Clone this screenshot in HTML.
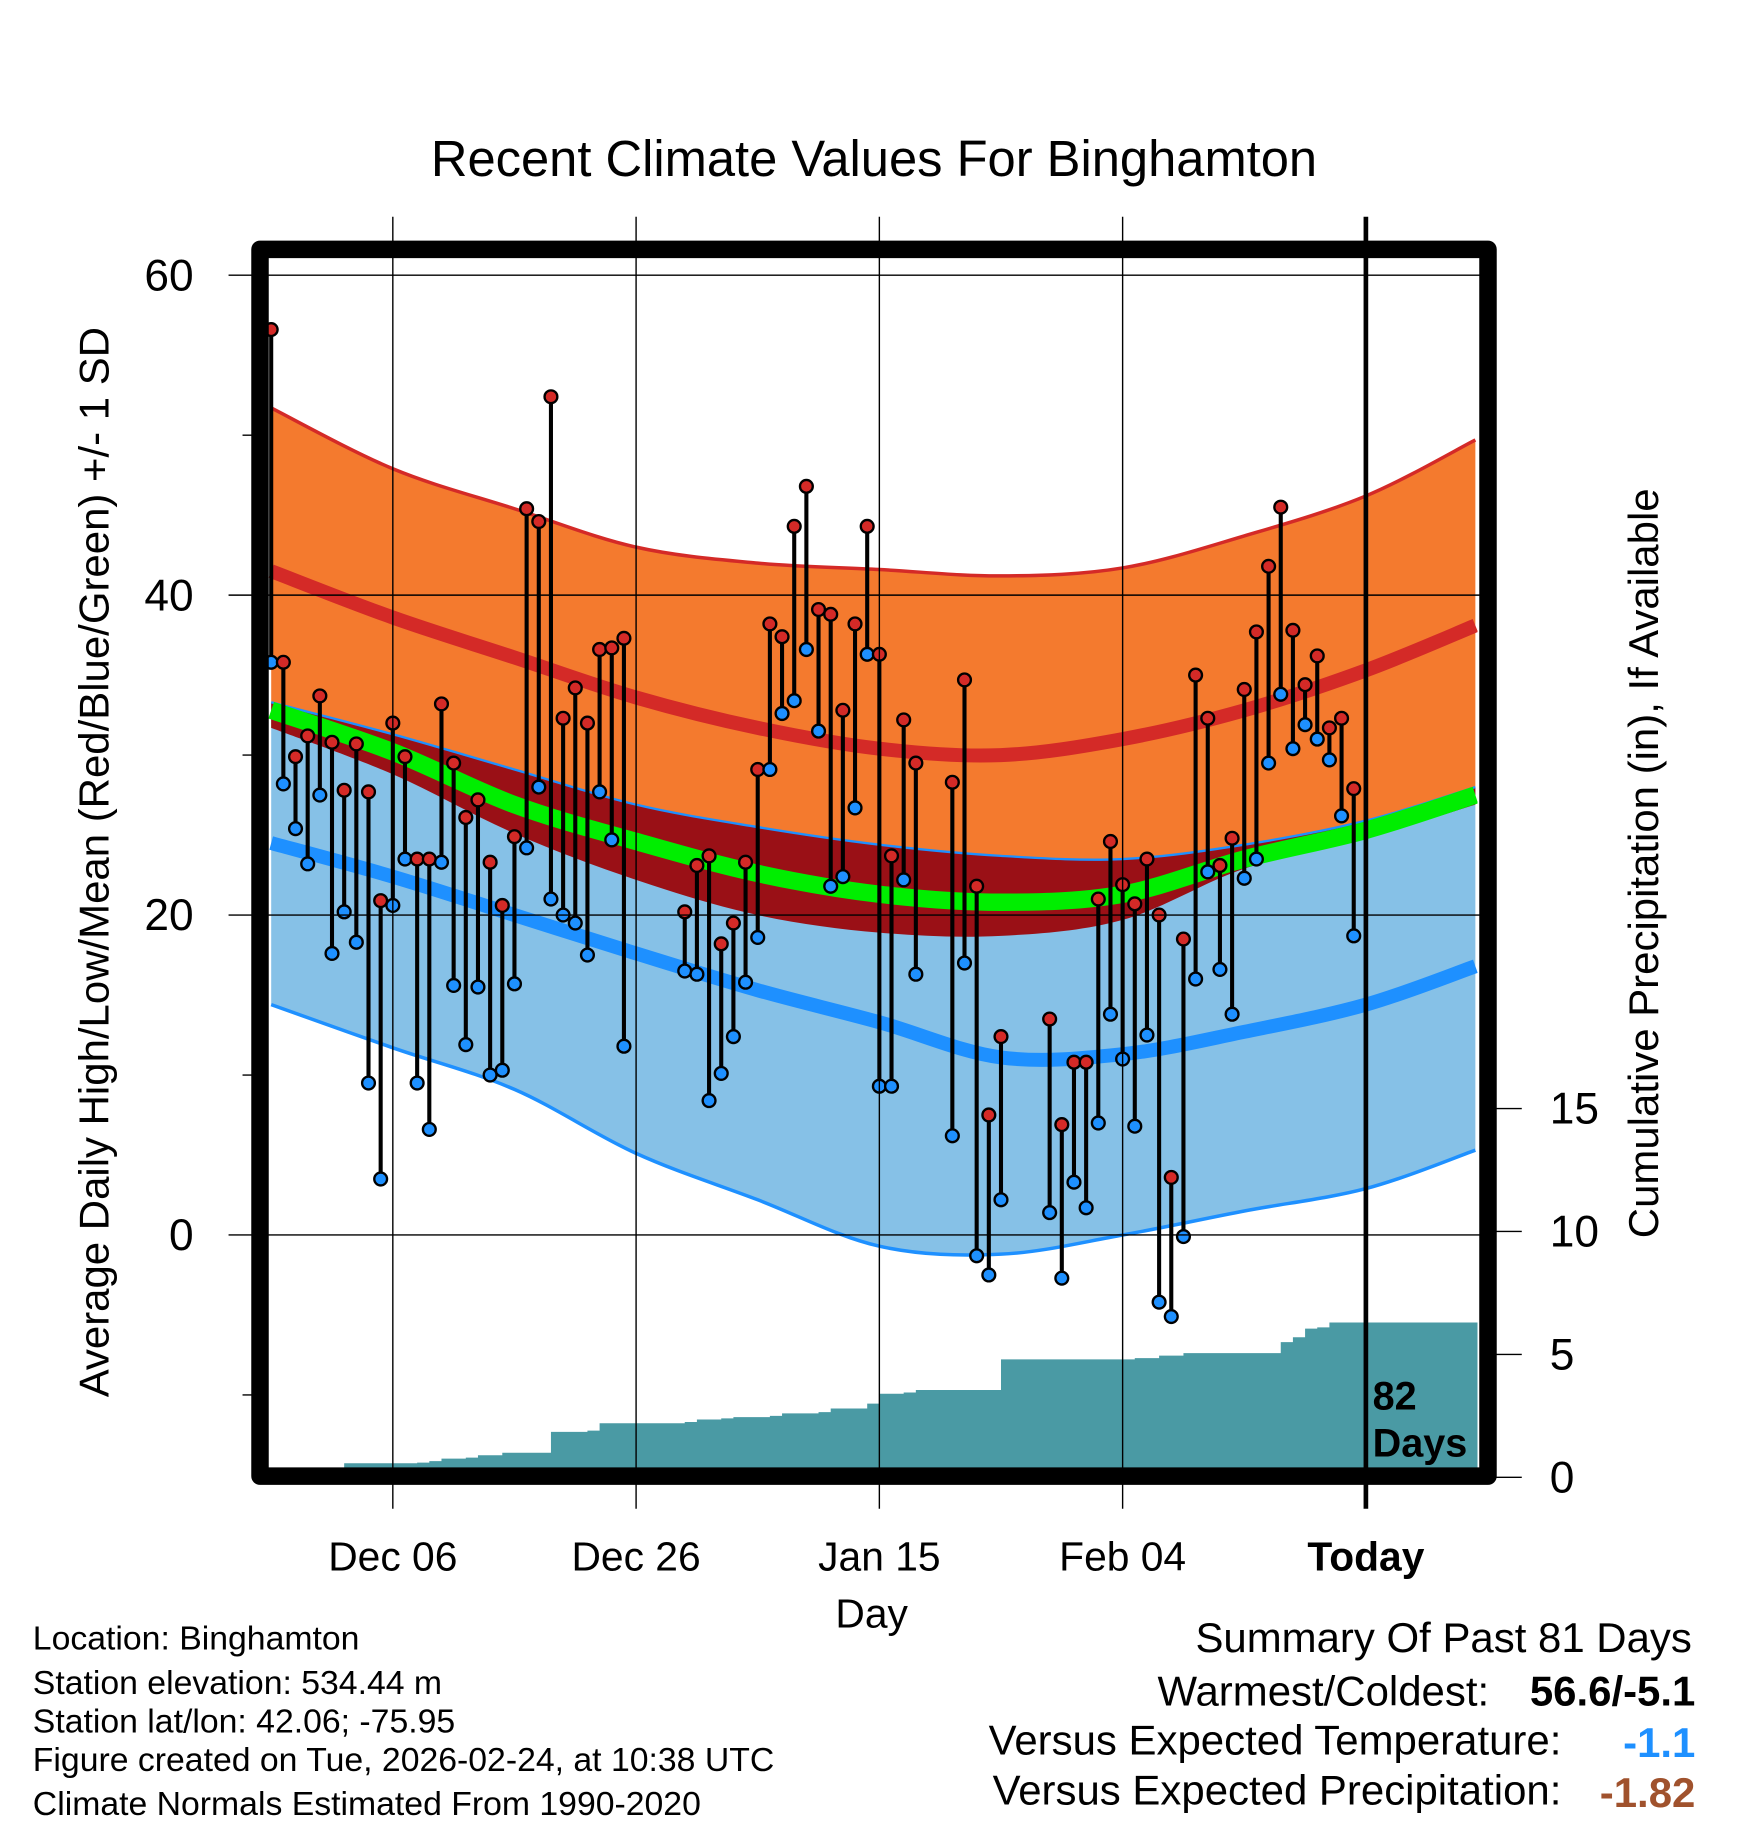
<!DOCTYPE html>
<html><head><meta charset="utf-8"><style>
html,body{margin:0;padding:0;background:#fff}
svg{display:block;font-family:"Liberation Sans",sans-serif}
</style></head><body>
<svg id="chart" width="1748" height="1828" viewBox="0 0 1500 1569" xmlns="http://www.w3.org/2000/svg">
<text x="750" y="151" font-size="43.5" text-anchor="middle">Recent Climate Values For Binghamton</text>
<g id="plot"></g>
<text transform="translate(93,740) rotate(-90)" font-size="36" text-anchor="middle">Average Daily High/Low/Mean (Red/Blue/Green) +/- 1 SD</text>
<text transform="translate(1423,741) rotate(-90)" font-size="36" text-anchor="middle">Cumulative Precipitation (in), If Available</text>
<text x="748" y="1397" font-size="35" text-anchor="middle">Day</text>
<g font-size="29">
<text x="28" y="1416">Location: Binghamton</text>
<text x="28" y="1454">Station elevation: 534.44 m</text>
<text x="28" y="1487">Station lat/lon: 42.06; -75.95</text>
<text x="28" y="1520">Figure created on Tue, 2026-02-24, at 10:38 UTC</text>
<text x="28" y="1558">Climate Normals Estimated From 1990-2020</text>
</g>
<g font-size="36">
<text x="1452" y="1418" text-anchor="end">Summary Of Past 81 Days</text>
<text x="1278" y="1464" text-anchor="end">Warmest/Coldest:</text>
<text x="1455" y="1464" text-anchor="end" font-weight="bold">56.6/-5.1</text>
<text x="1340" y="1506" text-anchor="end">Versus Expected Temperature:</text>
<text x="1455" y="1508" text-anchor="end" font-weight="bold" fill="#1e90ff">-1.1</text>
<text x="1340" y="1549" text-anchor="end">Versus Expected Precipitation:</text>
<text x="1455" y="1551" text-anchor="end" font-weight="bold" fill="#a0522d">-1.82</text>
</g>
</svg>
<script>
const normDays=[0,10,20,30,40,50,60,70,80,90,99];
const highPlus=[51.7,47.9,45.4,43.0,42.0,41.6,41.2,41.7,43.7,46.2,49.7];
const meanHigh=[41.5,38.6,36.1,33.6,31.7,30.4,30.0,31.0,32.8,35.3,38.1];
const highMinus=[31.7,28.8,25.1,22.2,20.0,18.9,18.7,19.7,22.9,24.8,26.9];
const meanTemp=[32.8,30.2,26.9,24.6,22.6,21.3,20.8,21.3,23.5,25.3,27.5];
const lowPlus=[33.3,31.3,29.1,26.9,25.5,24.4,23.7,23.5,24.4,25.9,28.0];
const meanLow=[24.5,22.4,20.0,17.6,15.3,13.3,11.1,11.3,12.7,14.4,16.8];
const lowMinus=[14.4,11.7,9.1,5.1,2.2,-0.7,-1.2,0.0,1.5,2.9,5.3];
const highs=[56.6,35.8,29.9,31.2,33.7,30.8,27.8,30.7,27.7,20.9,32.0,29.9,23.5,23.5,33.2,29.5,26.1,27.2,23.3,20.6,24.9,45.4,44.6,52.4,32.3,34.2,32.0,36.6,36.7,37.3,null,null,null,null,20.2,23.1,23.7,18.2,19.5,23.3,29.1,38.2,37.4,44.3,46.8,39.1,38.8,32.8,38.2,44.3,36.3,23.7,32.2,29.5,null,null,28.3,34.7,21.8,7.5,12.4,null,null,null,13.5,6.9,10.8,10.8,21.0,24.6,21.9,20.7,23.5,20.0,3.6,18.5,35.0,32.3,23.1,24.8,34.1,37.7,41.8,45.5,37.8,34.4,36.2,31.7,32.3,27.9];
const lows=[35.8,28.2,25.4,23.2,27.5,17.6,20.2,18.3,9.5,3.5,20.6,23.5,9.5,6.6,23.3,15.6,11.9,15.5,10.0,10.3,15.7,24.2,28.0,21.0,20.0,19.5,17.5,27.7,24.7,11.8,null,null,null,null,16.5,16.3,8.4,10.1,12.4,15.8,18.6,29.1,32.6,33.4,36.6,31.5,21.8,22.4,26.7,36.3,9.3,9.3,22.2,16.3,null,null,6.2,17.0,-1.3,-2.5,2.2,null,null,null,1.4,-2.7,3.3,1.7,7.0,13.8,11.0,6.8,12.5,-4.2,-5.1,-0.1,16.0,22.7,16.6,13.8,22.3,23.5,29.5,33.8,30.4,31.9,31.0,29.7,26.2,18.7];
const precip=[0,0,0,0,0,0,0.57,0.57,0.57,0.57,0.57,0.57,0.6,0.66,0.76,0.76,0.8,0.9,0.9,1.0,1.0,1.0,1.0,1.85,1.85,1.85,1.9,2.2,2.2,2.2,2.2,2.2,2.2,2.2,2.25,2.35,2.35,2.4,2.45,2.45,2.45,2.5,2.6,2.6,2.6,2.65,2.8,2.8,2.8,3.0,3.4,3.4,3.45,3.55,3.55,3.55,3.55,3.55,3.55,3.55,4.8,4.8,4.8,4.8,4.8,4.8,4.8,4.8,4.8,4.8,4.8,4.85,4.85,4.95,4.95,5.05,5.05,5.05,5.05,5.05,5.05,5.05,5.05,5.5,5.7,6.05,6.1,6.3,6.3,6.3];
const yTicks=[60,40,20,0];
const yMinor=[50,30,10,-10];
const pTicks=[0,5,10,15];
const xTickDays=[10,30,50,70,90];
const xTickLabels=["Dec 06","Dec 26","Jan 15","Feb 04","Today"];

const NS="http://www.w3.org/2000/svg";
const plot=document.getElementById('plot');
const X=d=>232.6+d*10.44;
const Y=t=>1060-t*13.73;
const P=p=>1268-p*21.1;
const L=230,R=1268,T=221,B=1260;
function mk(tag,attrs,parent){const e=document.createElementNS(NS,tag);for(const k in attrs)e.setAttribute(k,attrs[k]);(parent||plot).appendChild(e);return e;}
function smooth(arr){const pts=normDays.map((d,i)=>[X(d),Y(arr[i])]);let s='';
 for(let i=0;i<pts.length-1;i++){const p0=pts[Math.max(0,i-1)],p1=pts[i],p2=pts[i+1],p3=pts[Math.min(pts.length-1,i+2)];
  const c1=[p1[0]+(p2[0]-p0[0])/6,p1[1]+(p2[1]-p0[1])/6],c2=[p2[0]-(p3[0]-p1[0])/6,p2[1]-(p3[1]-p1[1])/6];
  s+=(i===0?'M'+p1[0]+','+p1[1]:'')+' C'+c1+' '+c2+' '+p2;}
 return {d:s,pts};}
function revSmooth(arr){const pts=normDays.map((d,i)=>[X(d),Y(arr[i])]).reverse();let s='';
 for(let i=0;i<pts.length-1;i++){const p0=pts[Math.max(0,i-1)],p1=pts[i],p2=pts[i+1],p3=pts[Math.min(pts.length-1,i+2)];
  const c1=[p1[0]+(p2[0]-p0[0])/6,p1[1]+(p2[1]-p0[1])/6],c2=[p2[0]-(p3[0]-p1[0])/6,p2[1]-(p3[1]-p1[1])/6];
  s+=(i===0?' L'+p1[0]+','+p1[1]:'')+' C'+c1+' '+c2+' '+p2;}
 return s;}
const defs=mk('defs',{});
const cp=mk('clipPath',{id:'clip'},defs);mk('rect',{x:L,y:T,width:R-L,height:B-T},cp);
const g=mk('g',{'clip-path':'url(#clip)'});
function band(top,bot,fill,name){const e=mk('path',{d:smooth(top).d+revSmooth(bot)+' Z',fill:fill},g);

return e;}
function line(arr,stroke,w,name){const e=mk('path',{d:smooth(arr).d,fill:'none',stroke:stroke,'stroke-width':w},g);

return e;}
band(highPlus,highMinus,'#f47a2e','high-sd-band');
band(lowPlus,lowMinus,'#86c1e7','low-sd-band');
band(lowPlus,highMinus,'#9a1016','overlap-band');
line(highPlus,'#d42a27',3,'high-plus-sd-line');
line(lowPlus,'#1e90ff',2,'low-plus-sd-line');
line(lowMinus,'#1e90ff',3,'low-minus-sd-line');
line(meanHigh,'#d42a27',12,'mean-high-line');
line(meanTemp,'#00ee00',15,'mean-temp-line');
line(meanLow,'#1e90ff',12,'mean-low-line');
let pd='M'+X(0)+','+(B+10);
precip.forEach((p,i)=>{pd+=' L'+X(i)+','+P(p)+' L'+X(i+1)+','+P(p);});
pd+=' L'+R+','+P(precip[precip.length-1])+' L'+R+','+(B+10)+' Z';
const pa=mk('path',{d:pd,fill:'#4a9aa4'},g);


yTicks.forEach(t=>{const e=mk('line',{x1:196,x2:1284,y1:Y(t),y2:Y(t),stroke:'#000','stroke-width':1.2});


const tx=mk('text',{x:166,y:Y(t)+13,'font-size':38,'text-anchor':'end'});tx.textContent=t;

});
yMinor.forEach(t=>{mk('line',{x1:208,x2:222,y1:Y(t),y2:Y(t),stroke:'#000','stroke-width':1.2});});
xTickDays.forEach((d,i)=>{const e=mk('line',{x1:X(d),x2:X(d),y1:186,y2:1295,stroke:'#000','stroke-width':i===4?4:1.2});


const tx=mk('text',{x:X(d),y:1348,'font-size':35,'text-anchor':'middle','font-weight':i===4?'bold':'normal'});tx.textContent=xTickLabels[i];

});
pTicks.forEach(p=>{mk('line',{x1:1284,x2:1306,y1:P(p),y2:P(p),stroke:'#000','stroke-width':1.2});
const tx=mk('text',{x:1330,y:P(p)+13,'font-size':38});tx.textContent=p;

});
highs.forEach((h,i)=>{const lo=lows[i];if(h===null||lo===null)return;
const ln=mk('line',{x1:X(i),x2:X(i),y1:Y(h),y2:Y(lo),stroke:'#000','stroke-width':3.5},g);


const c1=mk('circle',{cx:X(i),cy:Y(h),r:5.5,fill:'#d42a27',stroke:'#000','stroke-width':2},g);


const c2=mk('circle',{cx:X(i),cy:Y(lo),r:5.5,fill:'#1e90ff',stroke:'#000','stroke-width':2},g);

});
const fr=mk('rect',{x:223,y:214,width:1054,height:1053,fill:'none',stroke:'#000','stroke-width':15,'stroke-linejoin':'round'});


const d1=mk('text',{x:1178,y:1210,'font-size':34,'font-weight':'bold'});d1.textContent='82';


const d2=mk('text',{x:1178,y:1250,'font-size':34,'font-weight':'bold'});d2.textContent='Days';


</script>
</body></html>
